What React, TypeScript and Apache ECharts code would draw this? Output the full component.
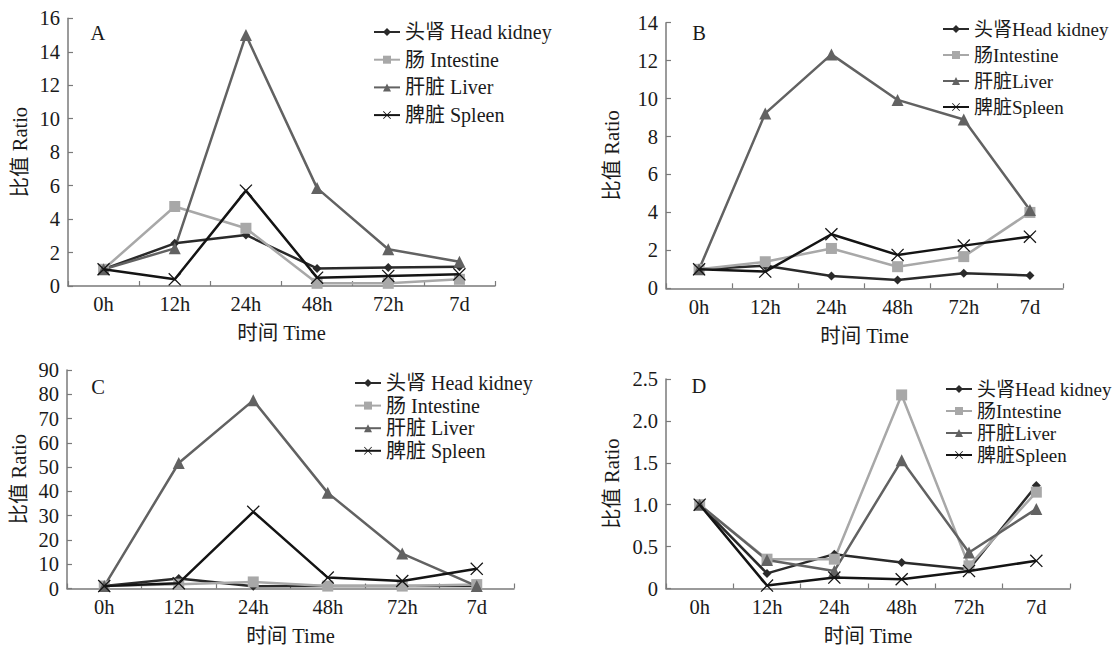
import React, { useEffect, useRef } from 'react';
import * as echarts from 'echarts';

const categories = ['0h', '12h', '24h', '48h', '72h', '7d'];

const aHeadKidney = [1.0, 2.55, 3.05, 1.05, 1.1, 1.15];
const aIntestine = [1.0, 4.75, 3.45, 0.16, 0.16, 0.4];
const aLiver = [1.0, 2.25, 15.0, 5.85, 2.2, 1.45];
const aSpleen = [1.0, 0.4, 5.7, 0.5, 0.6, 0.7];

const bHeadKidney = [1.0, 1.19, 0.65, 0.44, 0.79, 0.68];
const bIntestine = [1.0, 1.4, 2.1, 1.14, 1.67, 4.0];
const bLiver = [1.0, 9.22, 12.33, 9.93, 8.9, 4.13];
const bSpleen = [1.0, 0.88, 2.85, 1.76, 2.25, 2.72];

const cHeadKidney = [1.0, 4.1, 0.9, 1.0, 1.0, 1.0];
const cIntestine = [1.0, 1.8, 2.7, 1.0, 1.0, 1.6];
const cLiver = [1.0, 51.7, 77.5, 39.4, 14.4, 1.0];
const cSpleen = [1.0, 2.2, 31.6, 4.5, 3.1, 8.1];

const dHeadKidney = [1.0, 0.18, 0.41, 0.31, 0.23, 1.23];
const dIntestine = [1.0, 0.35, 0.35, 2.31, 0.27, 1.15];
const dLiver = [1.0, 0.34, 0.21, 1.53, 0.43, 0.95];
const dSpleen = [1.0, 0.035, 0.13, 0.11, 0.21, 0.33];

const namesSpaced = ['头肾 Head kidney', '肠 Intestine', '肝脏 Liver', '脾脏 Spleen'];
const namesTight = ['头肾Head kidney', '肠Intestine', '肝脏Liver', '脾脏Spleen'];
const panelLetters = ['A', 'B', 'C', 'D'];
const yMaxes = [16, 14, 90, 2.5];
const yIntervals = [2, 2, 10, 0.5];
const yAxisName = '比值 Ratio';
const xAxisName = '时间 Time';

const FONT = "'Liberation Serif', 'Times New Roman', 'Noto Sans CJK SC', serif";
const TEXT = '#1a1a1a';
const AXIS = '#7a7a7a';
const FS = 20.5;

const seriesColors = ['#2a2a2a', '#a8a8a8', '#626262', '#141414'];
const xPath = 'path://M0.7,0L5,4.3L9.3,0L10,0.7L5.7,5L10,9.3L9.3,10L5,5.7L0.7,10L0,9.3L4.3,5L0,0.7Z';
const seriesSymbols = ['diamond', 'rect', 'triangle', xPath];
const seriesSizes = [9, 11, 12, 13];

const layouts = [
  { left: 68, top: 18.3, width: 427, height: 267.7, legendLeft: 373, legendTop: 22, legendGap: 7.7, legendFs: 20, letterX: 98, letterY: 33, names: namesSpaced },
  { left: 666, top: 22.7, width: 397, height: 265.6, legendLeft: 942, legendTop: 19, legendGap: 6, legendFs: 19, letterX: 699, letterY: 33, names: namesTight },
  { left: 67, top: 370, width: 447, height: 221, legendLeft: 354, legendTop: 373, legendGap: 2.6, legendFs: 20, letterX: 98, letterY: 387, names: namesSpaced },
  { left: 666, top: 379, width: 404, height: 214.3, legendLeft: 945, legendTop: 379, legendGap: 2, legendFs: 19, letterX: 699, letterY: 386, names: namesTight },
];

const panelData = [
  [aHeadKidney, aIntestine, aLiver, aSpleen],
  [bHeadKidney, bIntestine, bLiver, bSpleen],
  [cHeadKidney, cIntestine, cLiver, cSpleen],
  [dHeadKidney, dIntestine, dLiver, dSpleen],
];

export default function App() {
  const ref = useRef<HTMLDivElement>(null);
  useEffect(() => {
    document.body.style.margin = '0';
    if (!ref.current) return;
    const chart = echarts.init(ref.current, undefined, { renderer: 'svg' });

    const grid: any[] = [];
    const xAxis: any[] = [];
    const yAxis: any[] = [];
    const legend: any[] = [];
    const series: any[] = [];
    const graphic: any[] = [];

    layouts.forEach((L, p) => {
      grid.push({ left: L.left, top: L.top, width: L.width, height: L.height, containLabel: false });
      xAxis.push({
        gridIndex: p,
        type: 'category',
        data: categories,
        boundaryGap: true,
        name: xAxisName,
        nameLocation: 'middle',
        nameGap: 37,
        nameTextStyle: { fontFamily: FONT, fontSize: FS, color: TEXT },
        axisLine: { show: true, lineStyle: { color: AXIS, width: 1.5 } },
        axisTick: { show: true, inside: true, length: 5, lineStyle: { color: AXIS, width: 1.2 } },
        axisLabel: { fontFamily: FONT, fontSize: FS, color: TEXT, margin: 8 },
        splitLine: { show: false },
      });
      yAxis.push({
        gridIndex: p,
        type: 'value',
        min: 0,
        max: yMaxes[p],
        interval: yIntervals[p],
        name: yAxisName,
        nameLocation: 'middle',
        nameGap: p === 0 || p === 2 ? 38 : 44,
        nameTextStyle: { fontFamily: FONT, fontSize: FS, color: TEXT },
        axisLine: { show: true, lineStyle: { color: AXIS, width: 1.5 } },
        axisTick: { show: true, inside: true, length: 5, lineStyle: { color: AXIS, width: 1.2 } },
        axisLabel: {
          fontFamily: FONT,
          fontSize: FS,
          color: TEXT,
          margin: 8,
          formatter: (v: number) => (p === 3 ? (v === 0 ? '0' : v.toFixed(1)) : String(v)),
        },
        splitLine: { show: false },
      });
      legend.push({
        orient: 'vertical',
        left: L.legendLeft,
        top: L.legendTop,
        itemGap: L.legendGap,
        itemWidth: 26,
        itemHeight: 10,
        padding: 0,
        data: L.names,
        selectedMode: false,
        textStyle: { fontFamily: FONT, fontSize: L.legendFs, color: TEXT, lineHeight: 20 },
      });
      L.names.forEach((nm, s) => {
        series.push({
          name: nm,
          type: 'line',
          xAxisIndex: p,
          yAxisIndex: p,
          data: panelData[p][s],
          symbol: seriesSymbols[s],
          symbolSize: seriesSizes[s],
          showSymbol: true,
          lineStyle: { color: seriesColors[s], width: 2.5 },
          itemStyle: { color: seriesColors[s], borderWidth: 0 },
          z: s === 3 ? 5 : 3,
        });
      });
      graphic.push({
        type: 'text',
        x: L.letterX,
        y: L.letterY,
        style: { text: panelLetters[p], font: `${FS}px ${FONT}`, fill: TEXT, textAlign: 'center', textVerticalAlign: 'middle' },
      });
    });

    chart.setOption({
      animation: false,
      backgroundColor: '#ffffff',
      grid,
      xAxis,
      yAxis,
      legend,
      series,
      graphic,
    });
    return () => chart.dispose();
  }, []);
  return <div ref={ref} style={{ width: 1120, height: 647 }} />;
}
